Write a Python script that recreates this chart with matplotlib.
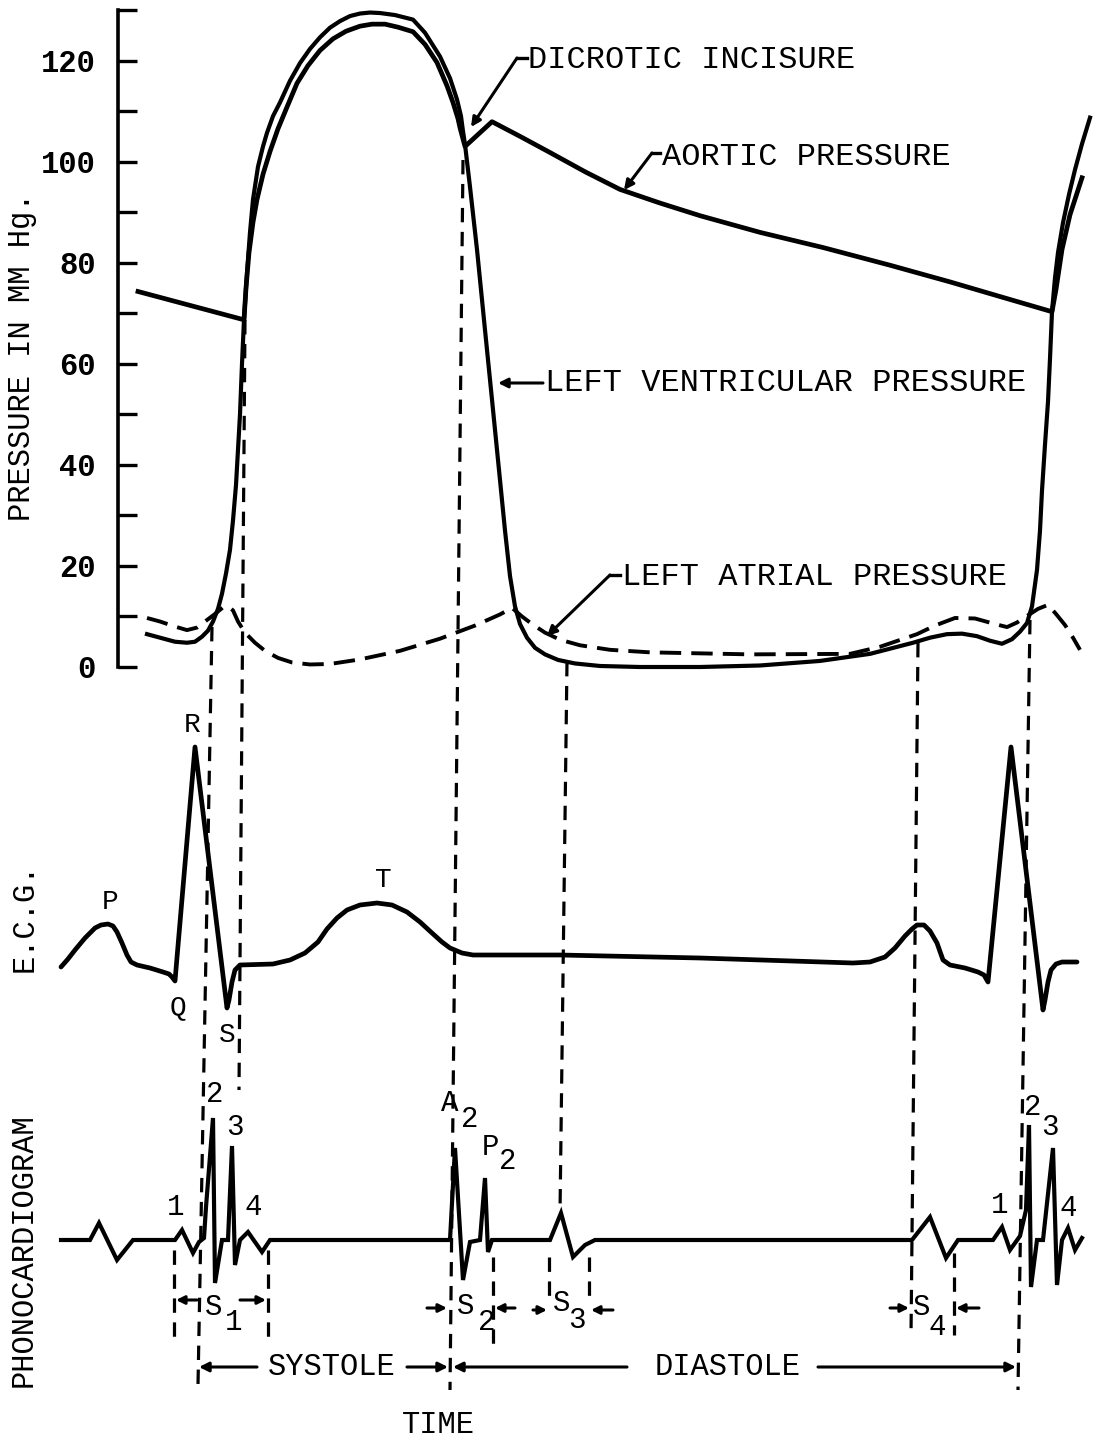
import matplotlib
matplotlib.use("Agg")
import matplotlib.pyplot as plt
import numpy as np

W, H = 1102, 1445
FONT = "Liberation Mono"

# time axis is in ms-like units shared by every panel

# left ventricular pressure (mm Hg)
lv_t = [147, 160, 175, 187, 195, 202, 208, 213, 218, 222, 226, 230, 233, 236, 238, 240,
        242, 244, 247, 250, 253, 258, 263, 267, 273, 280, 290, 300, 310, 320, 330, 340,
        350, 360, 370, 380, 395, 413, 425, 440, 450, 457, 461, 463,
        465, 470, 477, 485, 492, 500, 505, 510, 515, 520, 527, 535, 545, 558, 575, 600,
        640, 700, 760, 820, 870, 913, 930, 947, 962, 977, 990, 1002, 1012, 1020, 1027, 1032,
        1037, 1040, 1042, 1045, 1048, 1050, 1052, 1055, 1058, 1063, 1069, 1075, 1082, 1090]
lv_p = [6.5, 5.8, 5.0, 4.8, 5.0, 6.0, 7.2, 9.0, 11.5, 14.5, 18.5, 23.2, 29, 36, 43, 50,
        60, 68.7, 78, 86, 92.5, 99, 103, 105.7, 109, 111.7, 116, 119.5, 122.3, 124.6, 126.5, 127.8,
        128.8, 129.3, 129.5, 129.4, 129.0, 128.1, 125.5, 120.8, 116.5, 112.3, 109, 106,
        103.4, 95, 82.6, 66.7, 52.9, 37, 27, 18, 12, 8.5, 5.8, 3.8, 2.5, 1.4, 0.7, 0.2,
        0, 0, 0.3, 1.2, 2.6, 4.8, 5.8, 6.5, 6.6, 6.1, 5.2, 4.6, 5.5, 7.0, 8.7, 12,
        19.2, 27, 34.9, 44, 52.5, 61, 70.3, 77, 82, 87.9, 93.5, 98.4, 103.5, 108.7]

# aortic pressure (mm Hg)
ao_t = [138, 244, 246, 249, 253, 257, 263, 270, 278, 287, 297, 308, 320, 333, 346, 360,
        372, 385, 398, 413, 425, 437, 447, 453, 458, 460,
        465, 492, 520, 550, 585, 620, 660, 700, 760, 823, 890, 950, 1000, 1052,
        1056, 1062, 1070, 1082]
ao_p = [74.3, 68.7, 75, 82, 88, 92.5, 97.5, 102, 106.5, 110.8, 115.5, 119, 122, 124.3, 125.8, 126.8,
        127.2, 127.2, 126.6, 125.7, 123.2, 119.6, 115, 111.7, 108.5, 106.7,
        103, 107.9, 105, 101.8, 98, 94.5, 91.8, 89.3, 86, 83, 79.5, 76.2, 73.3, 70.3,
        74.7, 82.6, 89.5, 96.8]

# left atrial pressure (mm Hg)
la_t = [147, 160, 175, 187, 197, 205, 215, 223, 228, 233, 238, 245, 255, 265, 278, 292,
        310, 330, 360, 400, 440, 475, 500, 512, 522, 532, 545, 560, 580, 610, 650, 750,
        850, 880, 917, 935, 955, 975, 995, 1007, 1017, 1027, 1038, 1048, 1056, 1065, 1073, 1080]
la_p = [9.7, 9.0, 8.0, 7.3, 7.8, 9.0, 10.5, 11.8, 12.0, 11.2, 9.0, 6.8, 4.8, 3.2, 1.8, 0.9,
        0.5, 0.6, 1.5, 3.2, 5.6, 8.2, 10.4, 11.7, 10.0, 8.5, 6.8, 5.4, 4.3, 3.4, 2.9, 2.5,
        2.6, 4.0, 6.5, 8.2, 9.7, 9.6, 8.5, 7.9, 8.8, 10.1, 11.5, 12.3, 10.5, 8.3, 5.8, 3.4]

# ECG (mV)
ecg_t = [61, 68, 75, 85, 95, 101, 108, 113, 117, 122, 127, 131, 137, 150, 163, 169,
         172, 175, 195, 227, 229, 232, 235, 240, 273, 290, 305, 318, 327, 337, 347, 360,
         377, 392, 407, 420, 432, 442, 450, 462, 473, 560, 700, 853, 870, 885, 895, 905,
         912, 917, 924, 930, 937, 943, 950, 965, 978, 984, 988, 1011, 1043, 1045, 1048, 1051,
         1056, 1062, 1077]
ecg_mv = [-0.02, 0.06, 0.15, 0.27, 0.37, 0.40, 0.41, 0.39, 0.33, 0.22, 0.10, 0.03, 0.0, -0.03, -0.07, -0.09,
          -0.12, -0.16, 2.18, -0.43, -0.35, -0.17, -0.05, 0.0, 0.01, 0.05, 0.12, 0.23, 0.36, 0.47, 0.55, 0.60,
          0.62, 0.60, 0.53, 0.43, 0.32, 0.23, 0.17, 0.12, 0.10, 0.10, 0.07, 0.02, 0.03, 0.08, 0.17, 0.29,
          0.36, 0.40, 0.40, 0.34, 0.22, 0.05, 0.0, -0.03, -0.07, -0.10, -0.17, 2.18, -0.45, -0.35, -0.17, -0.05,
          0.01, 0.03, 0.03]

# phonocardiogram (relative amplitude)
pcg_t = [61, 90, 99, 117, 133, 175, 182, 193, 199, 204, 206, 213, 215, 222, 228, 232,
         235, 240, 248, 262, 270, 450, 455, 463, 470, 480, 485, 488, 492, 550, 561, 573,
         585, 595, 912, 930, 946, 958, 993, 1002, 1010, 1020, 1026, 1029, 1031, 1037, 1043, 1053,
         1057, 1062, 1068, 1075, 1082]
pcg_a = [0, 0, 1.7, -2.0, 0, 0, 1.0, -1.3, -0.2, 0.2, 3.3, 12.2, -4.3, 0, 0, 9.4,
         -2.5, 0, 0.8, -1.2, 0, 0, 9.2, -4.0, -0.2, 0, 6.2, -1.2, 0, 0, 2.7, -1.7,
         -0.5, 0, 0, 2.3, -1.8, 0, 0, 1.3, -1.0, 0.4, 3.0, 11.5, -4.7, 0, 0, 9.2,
         -4.5, 0, 1.2, -1.0, 0.2]

# dashed event lines: time and screen row at top and bottom
guide_t0 = [212, 245, 463, 567, 918, 1030]
guide_y0 = [627, 320, 160, 662, 643, 620]
guide_t1 = [198, 239, 450, 560, 911, 1018]
guide_y1 = [1385, 1090, 1390, 1213, 1335, 1390]

# short dashed bracket marks for heart sounds
mark_t = [174, 268, 493, 549, 589, 954]
mark_y0 = [1250, 1250, 1257, 1257, 1257, 1253]
mark_y1 = [1337, 1337, 1347, 1303, 1303, 1335]

fig = plt.figure(figsize=(W / 100, H / 100), dpi=100)

# ---- pressure panel
ax_p = fig.add_axes([0, (H - 667) / H, 1, (667 - 10) / H])
ax_p.set_xlim(0, W)
ax_p.set_ylim(0, 130)
ax_p.patch.set_visible(False)
for s in ["top", "right", "bottom"]:
    ax_p.spines[s].set_visible(False)
ax_p.spines["left"].set_position(("data", 118))
ax_p.spines["left"].set_linewidth(2.6)
ax_p.spines["left"].set_bounds(0, 130)
ax_p.set_xticks([])
ticks = np.arange(0, 131, 10)
ax_p.set_yticks(ticks)
ax_p.set_yticklabels([str(v) if v % 20 == 0 and v <= 120 else "" for v in ticks],
                     fontfamily=FONT, fontweight="bold", fontsize=22)
ax_p.tick_params(axis="y", direction="in", length=14, width=2.4, pad=16)

ax_p.plot(lv_t, lv_p, color="k", lw=3.0, clip_on=False, solid_joinstyle="round")
ax_p.plot(ao_t, ao_p, color="k", lw=3.4, clip_on=False, solid_joinstyle="round")
ax_p.plot(la_t, la_p, color="k", lw=2.8, ls=(0, (5.5, 2.6)), clip_on=False)

# ---- ECG panel
ax_e = fig.add_axes([0, (H - 1060) / H, 1, (1060 - 700) / H])
ax_e.set_xlim(0, W)
ax_e.set_ylim(-0.95, 2.65)
ax_e.axis("off")
ax_e.plot(ecg_t, ecg_mv, color="k", lw=3.4, solid_joinstyle="round", solid_capstyle="round")

# ---- phonocardiogram panel
ax_s = fig.add_axes([0, (H - 1330) / H, 1, (1330 - 1080) / H])
ax_s.set_xlim(0, W)
ax_s.set_ylim(-9, 16)
ax_s.axis("off")
ax_s.plot(pcg_t, pcg_a, color="k", lw=3.0, solid_joinstyle="miter")

# ---- overlay in screen rows for guides and annotations
ax_o = fig.add_axes([0, 0, 1, 1])
ax_o.set_xlim(0, W)
ax_o.set_ylim(H, 0)
ax_o.axis("off")

dash = (0, (4.5, 3))
for t0, y0, t1, y1 in zip(guide_t0, guide_y0, guide_t1, guide_y1):
    ax_o.plot([t0, t1], [y0, y1], color="k", lw=2.3, ls=dash)
for t, y0, y1 in zip(mark_t, mark_y0, mark_y1):
    ax_o.plot([t, t], [y0, y1], color="k", lw=2.3, ls=dash)


def arrow(x0, y0, x1, y1, lw=2.2, ms=14):
    ax_o.annotate("", xy=(x1, y1), xytext=(x0, y0),
                  arrowprops=dict(arrowstyle="-|>", color="k", lw=lw,
                                  mutation_scale=ms, shrinkA=0, shrinkB=0))


def txt(x, y, s, size=23, ha="left", **kw):
    ax_o.text(x, y, s, fontsize=size, family=FONT, ha=ha, va="center", **kw)


# pressure annotations
ax_o.plot([527, 517], [58, 58], color="k", lw=2.4)
arrow(517, 58, 471, 127)
txt(528, 60, "DICROTIC INCISURE")
ax_o.plot([660, 652], [153, 153], color="k", lw=2.4)
arrow(652, 153, 624, 190)
txt(662, 157, "AORTIC PRESSURE")
arrow(543, 383, 498, 383)
txt(545, 383, "LEFT VENTRICULAR PRESSURE")
ax_o.plot([620, 610], [575, 575], color="k", lw=2.4)
arrow(610, 575, 547, 636)
txt(622, 577, "LEFT ATRIAL PRESSURE")

# panel titles
txt(22, 357, "PRESSURE IN MM Hg.", size=22, ha="center", rotation=90)
txt(25, 917, "E.C.G.", size=22, ha="center", rotation=90)
txt(24, 1250, "PHONOCARDIOGRAM", size=22, ha="center", rotation=90)

# ECG wave names
for s, x, y in [("P", 110, 902), ("R", 192, 725), ("Q", 178, 1007), ("S", 227, 1035), ("T", 383, 880)]:
    txt(x, y, s, size=20, ha="center")

# heart sound components
for s, x, y in [("1", 176, 1207), ("2", 215, 1094), ("3", 235, 1127), ("4", 253, 1207),
                ("1", 1000, 1205), ("2", 1033, 1107), ("3", 1050, 1127), ("4", 1068, 1208),
                ("A", 450, 1103), ("2", 470, 1119), ("P", 490, 1147), ("2", 508, 1161),
                ("S", 214, 1307), ("1", 234, 1322), ("S", 466, 1306), ("2", 487, 1322),
                ("S", 562, 1303), ("3", 577, 1320), ("S", 922, 1307), ("4", 937, 1327)]:
    txt(x, y, s, size=21, ha="center")

# sound interval arrows
arrow(197, 1300, 176, 1300, ms=12)
arrow(240, 1300, 266, 1300, ms=12)
arrow(427, 1308, 447, 1308, ms=12)
arrow(515, 1308, 495, 1308, ms=12)
arrow(533, 1310, 547, 1310, ms=12)
arrow(613, 1310, 591, 1310, ms=12)
arrow(890, 1308, 909, 1308, ms=12)
arrow(979, 1308, 956, 1308, ms=12)

# systole / diastole
arrow(257, 1367, 199, 1367)
arrow(407, 1367, 448, 1367)
arrow(627, 1367, 453, 1367)
arrow(818, 1367, 1016, 1367)
txt(332, 1367, "SYSTOLE", size=22, ha="center")
txt(728, 1367, "DIASTOLE", size=22, ha="center")
txt(438, 1425, "TIME", size=22, ha="center")

fig.savefig("out.png", dpi=100)
